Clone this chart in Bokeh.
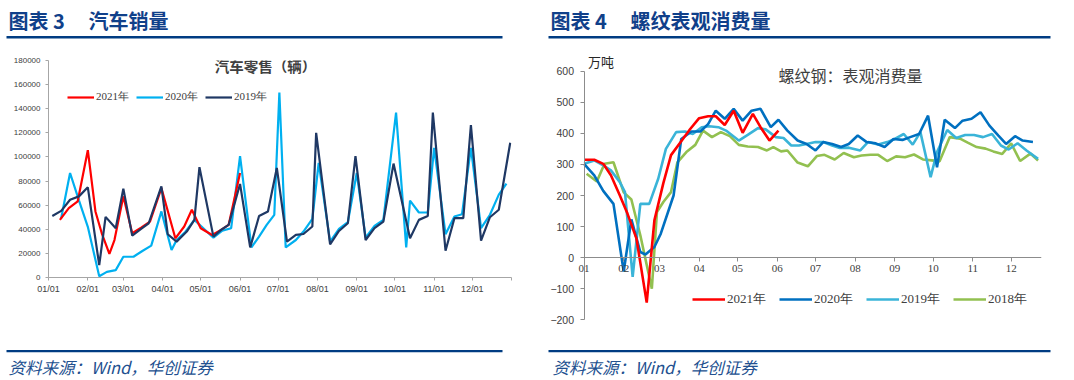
from bokeh.plotting import figure
from bokeh.models import Range1d, FixedTicker, Label, Legend, LegendItem, BasicTickFormatter
from bokeh.layouts import row, column
from bokeh.embed import file_html
from bokeh.resources import INLINE

CJK = "Noto Sans CJK SC"
TITLE_BLUE = "#10408A"
RULE_BLUE = "#003C82"
SRC_BLUE = "#22508F"

# ---------------- data ----------------
month_start_days = [0, 31, 59, 90, 120, 151, 181, 212, 243, 273, 304, 334]
car_month_labels = ["01/01", "02/01", "03/01", "04/01", "05/01", "06/01",
                    "07/01", "08/01", "09/01", "10/01", "11/01", "12/01"]
steel_month_labels = ["01", "02", "03", "04", "05", "06", "07", "08", "09", "10", "11", "12"]
car_y_ticks = [0, 20000, 40000, 60000, 80000, 100000, 120000, 140000, 160000, 180000]
steel_y_ticks = [-200, -100, 0, 100, 200, 300, 400, 500, 600]

# 汽车零售（辆） — x = day of year
car_2019_day = [3, 10, 17, 24, 31, 40, 45, 53, 59, 66, 73, 79, 89, 94, 101, 109, 115, 119, 130, 136,
                142, 151, 159, 166, 173, 180, 188, 195, 201, 208, 211, 222, 229, 236, 242, 250, 257,
                264, 272, 285, 292, 299, 303, 313, 320, 327, 333, 341, 348, 355, 364]
car_2019 = [51000, 55300, 64500, 67300, 74800, 10300, 50300, 40900, 73700, 34700, 40300, 45000,
            75600, 35900, 29700, 38100, 47800, 91500, 33900, 39500, 43600, 77600, 25000, 51000,
            54800, 90900, 29700, 35300, 36100, 42300, 120000, 27500, 38600, 45000, 100600, 31100,
            40900, 46400, 94500, 32500, 47800, 51100, 136800, 22200, 49200, 49200, 126500, 30600,
            50000, 56200, 111800]
car_2020_day = [10, 17, 24, 31, 40, 46, 53, 59, 67, 74, 81, 89, 97, 101, 108, 115, 130, 137, 144, 151,
                160, 166, 172, 178, 182, 187, 195, 201, 208, 213, 222, 229, 236, 243, 250, 257, 264,
                274, 282, 285, 292, 299, 304, 313, 320, 326, 333, 341, 348, 355, 361]
car_2020 = [49200, 86700, 64000, 42000, 1100, 4700, 6100, 17200, 17200, 22000, 26400, 54800,
            22800, 31100, 38000, 47800, 33000, 38900, 40900, 100600, 25000, 33900, 43600, 52000,
            153400, 25000, 31100, 38100, 48600, 95100, 29700, 40300, 45900, 86700, 33100, 42800,
            47800, 136800, 25000, 63700, 53900, 53900, 107600, 35900, 50600, 52500, 107600, 40900,
            52000, 68700, 77800]
car_2021_day = [9, 16, 23, 31, 37, 42, 48, 52, 59, 66, 73, 80, 89, 100, 107, 113, 120, 129, 136, 142, 151]
car_2021 = [47800, 57500, 63100, 105600, 54800, 36700, 19500, 31100, 67300, 36700, 41400, 46400,
            74200, 32500, 42300, 56200, 40900, 35300, 39500, 43600, 86700]

# 螺纹钢：表观消费量（万吨） — x = day of year
steel_2021_day = [0, 8, 15, 21, 28, 34, 41, 49, 55, 62, 68, 76, 83, 90, 97, 103, 110, 117, 124, 132,
                  138, 145, 152]
steel_2021 = [315, 315, 302, 265, 200, 141, 61, -145, 120, 240, 330, 375, 414, 449, 455, 455, 427,
              473, 402, 463, 420, 377, 409]
steel_2020_day = [0, 8, 15, 23, 31, 37, 44, 48, 55, 60, 70, 76, 84, 91, 97, 103, 110, 117, 124, 131,
                  138, 146, 152, 159, 167, 174, 181, 187, 194, 201, 207, 214, 221, 228, 235, 242,
                  249, 255, 262, 269, 276, 282, 290, 296, 303, 310, 317, 324, 330, 337, 343, 351]
steel_2020 = [302, 265, 215, 173, -45, 123, 18, 10, 34, 77, 200, 382, 406, 406, 430, 473, 447, 479,
              441, 473, 479, 420, 444, 409, 377, 366, 345, 372, 366, 356, 366, 393, 372, 368, 356,
              382, 379, 388, 398, 457, 291, 444, 417, 441, 447, 468, 425, 393, 366, 391, 377, 372]
steel_2019_day = [0, 8, 15, 21, 28, 32, 38, 44, 51, 58, 64, 72, 79, 85, 92, 98, 105, 111, 121, 128,
                  136, 142, 150, 156, 162, 168, 174, 181, 187, 194, 200, 207, 216, 222, 230, 237,
                  243, 250, 257, 263, 271, 276, 284, 291, 298, 305, 312, 319, 326, 332, 339, 346, 355]
steel_2019 = [302, 313, 297, 281, 243, 211, -62, 173, 173, 254, 350, 404, 406, 398, 420, 423, 420,
              409, 377, 395, 417, 413, 388, 385, 361, 361, 366, 372, 372, 361, 353, 354, 345, 372,
              364, 372, 382, 398, 364, 404, 259, 340, 411, 385, 395, 395, 388, 398, 361, 348, 368,
              345, 318]
steel_2018_day = [2, 10, 16, 23, 31, 37, 44, 53, 57, 62, 68, 73, 80, 87, 93, 100, 107, 114, 121, 128,
                  136, 143, 148, 154, 159, 167, 175, 182, 188, 196, 203, 211, 217, 224, 230, 237,
                  244, 251, 258, 265, 272, 278, 286, 294, 300, 307, 314, 320, 327, 334, 341, 349, 355]
steel_2018 = [270, 245, 302, 307, 210, 187, 72, -100, 147, 179, 211, 307, 340, 363, 409, 388, 404,
              391, 363, 358, 356, 345, 356, 342, 345, 306, 294, 327, 331, 316, 337, 323, 329, 331,
              331, 311, 326, 323, 332, 316, 313, 310, 388, 383, 370, 356, 351, 342, 334, 368, 311,
              335, 313]


# ---------------- helpers ----------------
def deco(width, height):
    p = figure(width=width, height=height, x_range=Range1d(0, width), y_range=Range1d(height, 0),
               min_border=0, toolbar_location=None, output_backend="svg", frame_align=False,
               outline_line_color=None, x_axis_type=None, y_axis_type=None)
    p.background_fill_color = "white"
    p.border_fill_color = "white"
    return p


def add_text(p, x, y, text, size, color, font=CJK, style="normal", align="left"):
    p.add_layout(Label(x=x, y=y, text=text, text_font=font, text_font_size=size,
                       text_color=color, text_font_style=style, text_align=align,
                       text_baseline="middle"))


def title_fig(width, x0, rule_x0, rule_x1, fig_no, name):
    p = deco(width, 52)
    p.segment(x0=[rule_x0], y0=[36.7], x1=[rule_x1], y1=[36.7], line_color=RULE_BLUE,
              line_width=2.6)
    add_text(p, x0, 20, "图表 " + fig_no, "20px", TITLE_BLUE, style="bold")
    add_text(p, x0 + 80, 20, name, "20px", TITLE_BLUE, style="bold")
    return p


def source_fig(width, x0, rule_x0, rule_x1):
    p = deco(width, 32)
    p.segment(x0=[rule_x0], y0=[2.7], x1=[rule_x1], y1=[2.7], line_color=RULE_BLUE, line_width=2.2)
    add_text(p, x0, 18, "资料来源：Wind，华创证券", "16.5px", SRC_BLUE, style="italic")
    return p


# ---------------- left: 汽车零售 ----------------
LEFT_W = 512
p1 = figure(width=LEFT_W, height=296, x_range=Range1d(0, 365), y_range=Range1d(0, 180000),
            min_border_left=48, min_border_right=1, min_border_top=8, min_border_bottom=71,
            toolbar_location=None, output_backend="svg", outline_line_color=None,
            frame_align=False)
p1.grid.visible = False
p1.background_fill_color = "white"

r20 = p1.line(car_2020_day, car_2020, line_color="#00B0F0", line_width=2.2)
r21 = p1.line(car_2021_day, car_2021, line_color="#FF0000", line_width=2.2)
r19 = p1.line(car_2019_day, car_2019, line_color="#1F3864", line_width=2.2)

ax_color = "#A6A6A6"
for ax in (p1.xaxis[0], p1.yaxis[0]):
    ax.axis_line_color = ax_color
    ax.major_tick_line_color = ax_color
    ax.minor_tick_line_color = None
    ax.major_tick_in = 0
    ax.major_tick_out = 3
    ax.major_label_text_color = "#404040"
    ax.major_label_text_font = "Liberation Sans"
p1.yaxis[0].ticker = FixedTicker(ticks=car_y_ticks)
p1.yaxis[0].formatter = BasicTickFormatter(use_scientific=False)
p1.yaxis[0].major_label_text_font_size = "8px"
p1.yaxis[0].major_label_standoff = 5
p1.xaxis[0].ticker = FixedTicker(ticks=month_start_days + [365])
p1.xaxis[0].major_label_overrides = {d: lab for d, lab in zip(month_start_days, car_month_labels)} | {365: ""}
p1.xaxis[0].major_label_text_font_size = "9px"
p1.xaxis[0].major_label_standoff = 3

p1.add_layout(Label(x=171, y=175900, text="汽车零售（辆）", text_font=CJK, text_font_size="14.5px",
                    text_font_style="bold", text_color="#404040", text_align="center",
                    text_baseline="middle"))

leg1 = Legend(items=[LegendItem(label="2021年", renderers=[r21]),
                     LegendItem(label="2020年", renderers=[r20]),
                     LegendItem(label="2019年", renderers=[r19])],
              location=(19, 173), orientation="horizontal", border_line_color=None,
              background_fill_alpha=0, padding=0, margin=0, spacing=7, glyph_width=27,
              glyph_height=12, label_height=12, label_standoff=2,
              label_text_font="Liberation Serif", label_text_font_size="11px",
              label_text_color="#404040")
p1.add_layout(leg1)

# ---------------- right: 螺纹钢表观消费量 ----------------
RIGHT_W = 1074 - LEFT_W
p2 = figure(width=RIGHT_W, height=296, x_range=Range1d(-27.8, 357.7), y_range=Range1d(-225, 654),
            min_border_left=36, min_border_right=33, min_border_top=2, min_border_bottom=21,
            toolbar_location=None, output_backend="svg", outline_line_color=None,
            frame_align=False)
p2.grid.visible = False
p2.background_fill_color = "white"

s18 = p2.line(steel_2018_day, steel_2018, line_color="#92C050", line_width=2.6)
s19 = p2.line(steel_2019_day, steel_2019, line_color="#3AB4D8", line_width=2.6)
s20 = p2.line(steel_2020_day, steel_2020, line_color="#0070C0", line_width=2.6)
s21 = p2.line(steel_2021_day, steel_2021, line_color="#FF0000", line_width=2.6)

ax2 = "#8C8C8C"
for ax in (p2.xaxis[0], p2.yaxis[0]):
    ax.axis_line_color = ax2
    ax.major_tick_line_color = ax2
    ax.minor_tick_line_color = None
    ax.major_tick_in = 0
    ax.major_tick_out = 4
    ax.major_label_text_color = "#404040"
p2.yaxis[0].fixed_location = 0
p2.yaxis[0].ticker = FixedTicker(ticks=steel_y_ticks)
p2.yaxis[0].bounds = (-200, 600)
p2.yaxis[0].major_label_text_font = "Liberation Sans"
p2.yaxis[0].major_label_text_font_size = "10.5px"
p2.yaxis[0].major_label_standoff = 6
p2.xaxis[0].fixed_location = 0
p2.xaxis[0].bounds = (0, 357.7)
p2.xaxis[0].ticker = FixedTicker(ticks=month_start_days)
p2.xaxis[0].major_label_overrides = {d: lab for d, lab in zip(month_start_days, steel_month_labels)}
p2.xaxis[0].major_label_text_font = "Liberation Serif"
p2.xaxis[0].major_label_text_font_size = "11px"
p2.xaxis[0].major_label_standoff = 3

p2.add_layout(Label(x=3, y=631, text="万吨", text_font=CJK, text_font_size="13px",
                    text_color="#262626", text_align="left", text_baseline="middle"))
p2.add_layout(Label(x=152, y=589, text="螺纹钢：表观消费量", text_font=CJK, text_font_size="16px",
                    text_color="#404040", text_align="left", text_baseline="middle"))

leg2 = Legend(items=[LegendItem(label="2021年", renderers=[s21]),
                     LegendItem(label="2020年", renderers=[s20]),
                     LegendItem(label="2019年", renderers=[s19]),
                     LegendItem(label="2018年", renderers=[s18])],
              location=(144, 19), orientation="horizontal", border_line_color=None,
              background_fill_alpha=0, padding=0, margin=0, spacing=13, glyph_width=33,
              glyph_height=14, label_height=14, label_standoff=2,
              label_text_font="Liberation Serif", label_text_font_size="13px",
              label_text_color="#404040")
p2.add_layout(leg2)

# ---------------- layout ----------------
t1 = title_fig(LEFT_W, 8, 6, 502, "3", "汽车销量")
s1 = source_fig(LEFT_W, 8, 6, 502)
t2 = title_fig(RIGHT_W, 38, 36, 538, "4", "螺纹表观消费量")
s2 = source_fig(RIGHT_W, 40, 36, 538)

layout = row(column(t1, p1, s1), column(t2, p2, s2))
open("out.html", "w").write(file_html(layout, INLINE))
